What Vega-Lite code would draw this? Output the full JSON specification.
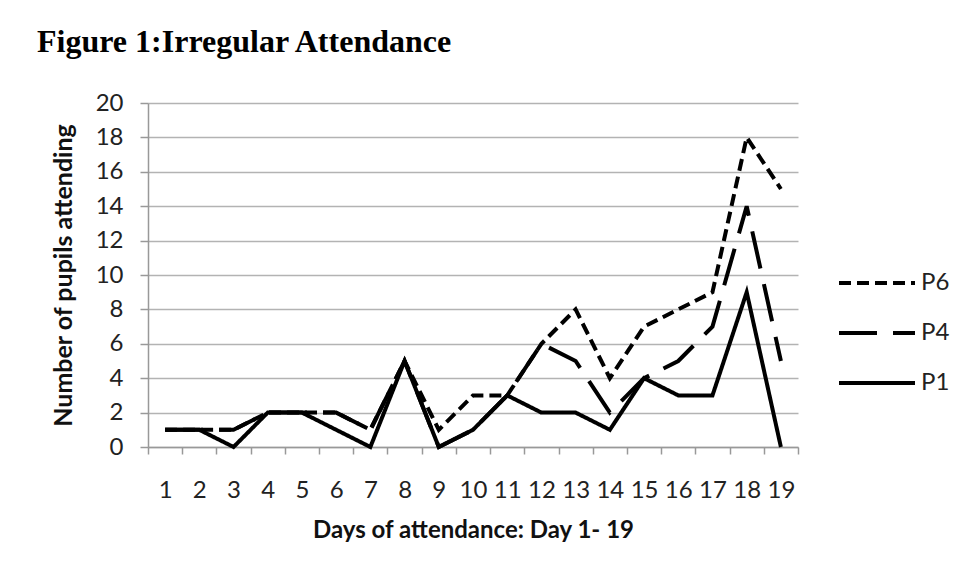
{
  "$schema": "https://vega.github.io/schema/vega-lite/v6.json",
  "width": 650,
  "height": 344,
  "autosize": {"type": "none"},
  "padding": {"left": 148, "top": 103, "right": 161, "bottom": 135},
  "background": "white",
  "title": {
    "text": "Figure 1:Irregular Attendance",
    "font": "Liberation Serif",
    "fontSize": 32,
    "fontWeight": "bold",
    "color": "black",
    "anchor": "start",
    "frame": "group",
    "dx": -111,
    "offset": 32
  },
  "data": {
    "values": [
      {"day": 1, "series": "P6", "value": 1}, {"day": 2, "series": "P6", "value": 1}, {"day": 3, "series": "P6", "value": 1}, {"day": 4, "series": "P6", "value": 2}, {"day": 5, "series": "P6", "value": 2}, {"day": 6, "series": "P6", "value": 2}, {"day": 7, "series": "P6", "value": 1}, {"day": 8, "series": "P6", "value": 5}, {"day": 9, "series": "P6", "value": 1}, {"day": 10, "series": "P6", "value": 3}, {"day": 11, "series": "P6", "value": 3}, {"day": 12, "series": "P6", "value": 6}, {"day": 13, "series": "P6", "value": 8}, {"day": 14, "series": "P6", "value": 4}, {"day": 15, "series": "P6", "value": 7}, {"day": 16, "series": "P6", "value": 8}, {"day": 17, "series": "P6", "value": 9}, {"day": 18, "series": "P6", "value": 18}, {"day": 19, "series": "P6", "value": 15},
      {"day": 1, "series": "P4", "value": 1}, {"day": 2, "series": "P4", "value": 1}, {"day": 3, "series": "P4", "value": 1}, {"day": 4, "series": "P4", "value": 2}, {"day": 5, "series": "P4", "value": 2}, {"day": 6, "series": "P4", "value": 2}, {"day": 7, "series": "P4", "value": 1}, {"day": 8, "series": "P4", "value": 5}, {"day": 9, "series": "P4", "value": 0}, {"day": 10, "series": "P4", "value": 1}, {"day": 11, "series": "P4", "value": 3}, {"day": 12, "series": "P4", "value": 6}, {"day": 13, "series": "P4", "value": 5}, {"day": 14, "series": "P4", "value": 2}, {"day": 15, "series": "P4", "value": 4}, {"day": 16, "series": "P4", "value": 5}, {"day": 17, "series": "P4", "value": 7}, {"day": 18, "series": "P4", "value": 14}, {"day": 19, "series": "P4", "value": 5},
      {"day": 1, "series": "P1", "value": 1}, {"day": 2, "series": "P1", "value": 1}, {"day": 3, "series": "P1", "value": 0}, {"day": 4, "series": "P1", "value": 2}, {"day": 5, "series": "P1", "value": 2}, {"day": 6, "series": "P1", "value": 1}, {"day": 7, "series": "P1", "value": 0}, {"day": 8, "series": "P1", "value": 5}, {"day": 9, "series": "P1", "value": 0}, {"day": 10, "series": "P1", "value": 1}, {"day": 11, "series": "P1", "value": 3}, {"day": 12, "series": "P1", "value": 2}, {"day": 13, "series": "P1", "value": 2}, {"day": 14, "series": "P1", "value": 1}, {"day": 15, "series": "P1", "value": 4}, {"day": 16, "series": "P1", "value": 3}, {"day": 17, "series": "P1", "value": 3}, {"day": 18, "series": "P1", "value": 9}, {"day": 19, "series": "P1", "value": 0}
    ]
  },
  "mark": {"type": "line", "color": "black", "strokeWidth": 4, "strokeJoin": "miter"},
  "encoding": {
    "x": {
      "field": "day",
      "type": "ordinal",
      "bandPosition": 0.5,
      "scale": {"type": "band", "paddingInner": 0, "paddingOuter": 0},
      "axis": {
        "title": "Days of attendance: Day 1- 19",
        "labelAngle": 0,
        "tickBand": "extent",
        "tickSize": 7,
        "tickColor": "#999999",
        "tickWidth": 1.5,
        "domainColor": "#999999",
        "domainWidth": 1.5,
        "grid": false,
        "labelFont": "Lato",
        "labelFontSize": 24,
        "labelColor": "#222222",
        "labelPadding": 24,
        "titleFont": "Lato",
        "titleFontSize": 24,
        "titleFontWeight": "bold",
        "titleColor": "#111111",
        "titlePadding": 16
      }
    },
    "y": {
      "field": "value",
      "type": "quantitative",
      "scale": {"domain": [0, 20], "nice": false},
      "axis": {
        "title": "Number of pupils attending",
        "values": [0, 2, 4, 6, 8, 10, 12, 14, 16, 18, 20],
        "tickSize": 8,
        "tickColor": "#999999",
        "tickWidth": 1.5,
        "domainColor": "#999999",
        "domainWidth": 1.5,
        "grid": true,
        "gridColor": "#b3b3b3",
        "gridWidth": 1.5,
        "labelFont": "Lato",
        "labelFontSize": 24,
        "labelColor": "#222222",
        "labelPadding": 17,
        "titleFont": "Lato",
        "titleFontSize": 25,
        "titleFontWeight": "bold",
        "titleColor": "#111111",
        "titlePadding": 19
      }
    },
    "strokeDash": {
      "field": "series",
      "type": "nominal",
      "scale": {"domain": ["P6", "P4", "P1"], "range": [[12, 6], [38, 16], [1, 0]]},
      "legend": {
        "title": null,
        "orient": "none",
        "legendX": 689,
        "legendY": 170,
        "symbolType": "stroke",
        "symbolSize": 5776,
        "symbolStrokeWidth": 4,
        "symbolStrokeColor": "black",
        "clipHeight": 20,
        "rowPadding": 26,
        "labelFont": "Lato",
        "labelFontSize": 24,
        "labelColor": "#222222",
        "labelOffset": 4
      }
    }
  },
  "config": {"view": {"stroke": null}}
}
